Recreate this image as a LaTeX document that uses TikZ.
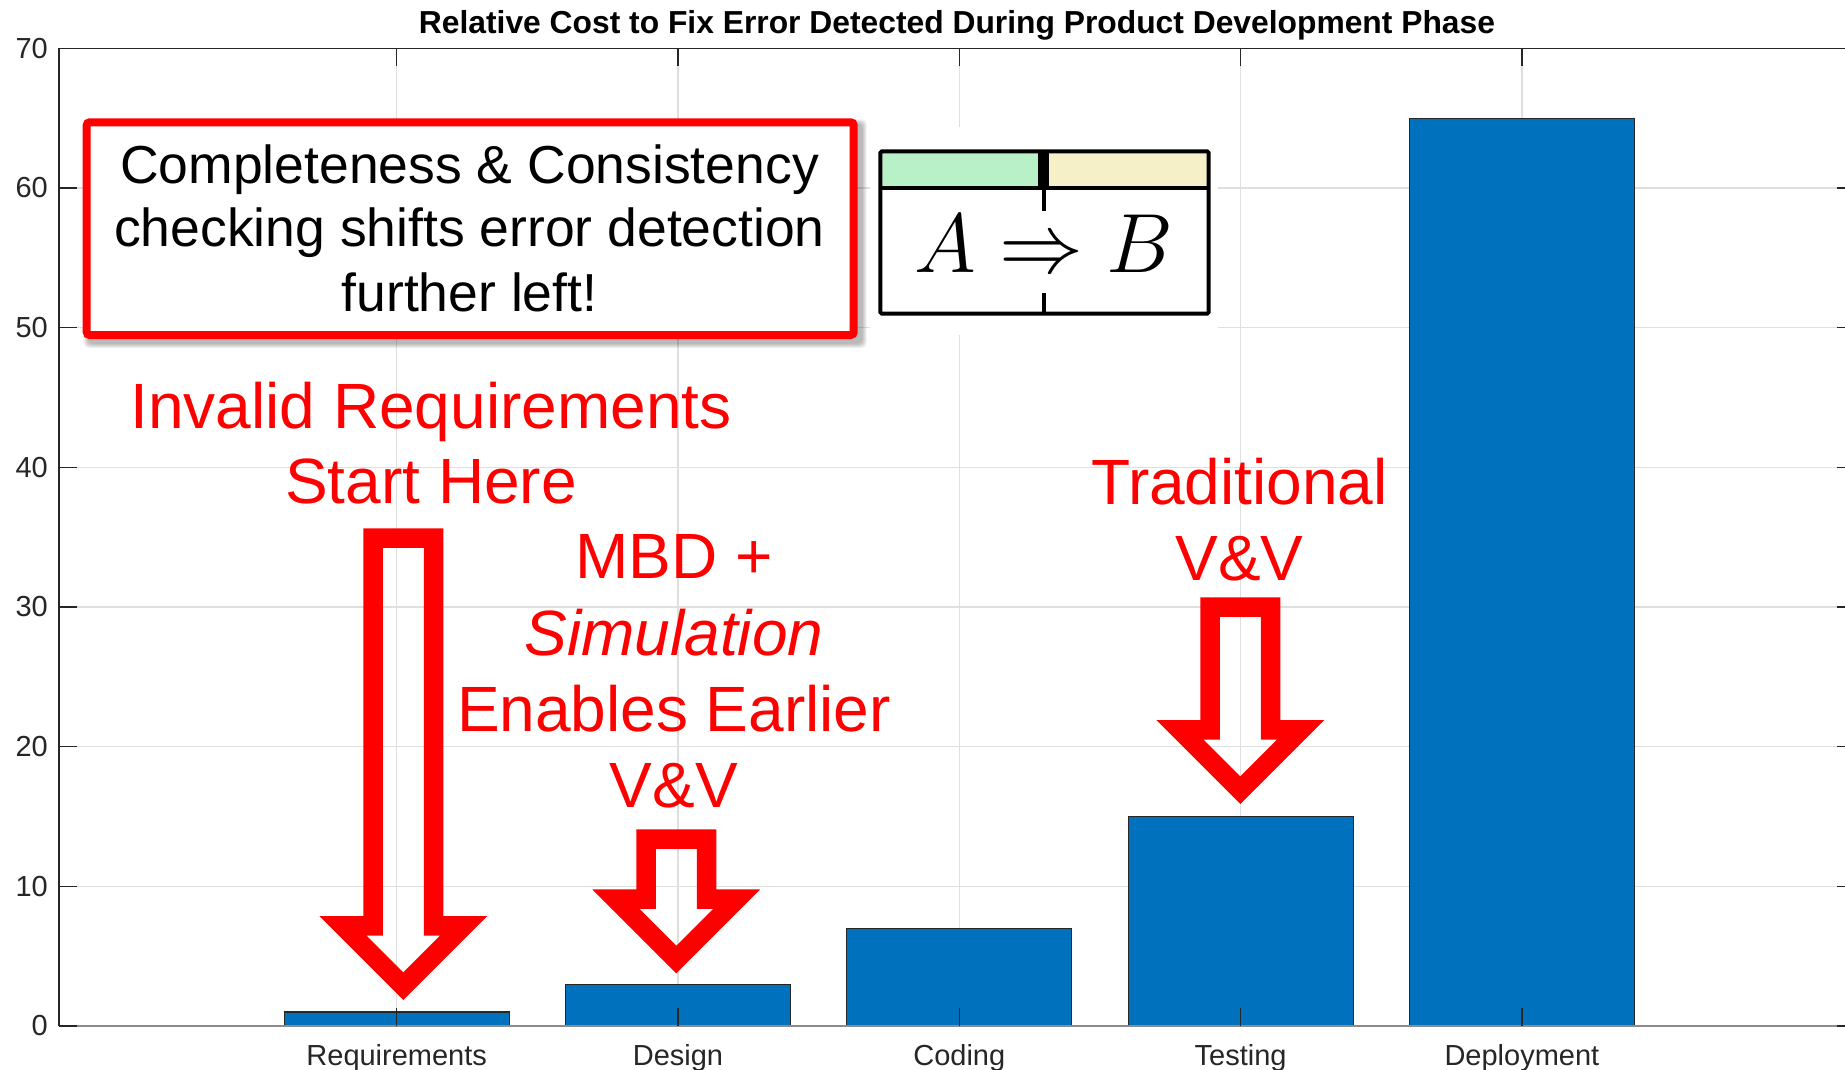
\RequirePackage{fix-cm}
\documentclass[tikz,border=0pt]{standalone}
\usepackage{fontspec}
\newfontfamily\plotfont{Liberation Sans}
\definecolor{barblue}{HTML}{0072BD}
\definecolor{gridgray}{HTML}{DFDFDF}
\definecolor{axisgray}{HTML}{262626}
\definecolor{alertred}{HTML}{FF0000}
\definecolor{pregreen}{HTML}{B8F0C8}
\definecolor{postyellow}{HTML}{F5F0C8}

% Hollow block arrow pointing down: centre x, top y, y of the wings
\newcommand{\hollowdownarrow}[3]{%
  \fill[alertred,even odd rule]
    ({#1-40},#2) -- ({#1+40},#2) -- ({#1+40},#3) -- ({#1+84},#3)
      -- (#1,{#3+84}) -- ({#1-84},#3) -- ({#1-40},#3) -- cycle
    ({#1-20.5},{#2+19.5}) -- ({#1+20.5},{#2+19.5}) -- ({#1+20.5},{#3+19.5})
      -- ({#1+36.9},{#3+19.5}) -- (#1,{#3+56.4}) -- ({#1-36.9},{#3+19.5})
      -- ({#1-20.5},{#3+19.5}) -- cycle;}

\begin{document}
\begin{tikzpicture}[x=1pt,y=-1pt,
  ticklabel/.style={font=\plotfont\fontsize{29}{33}\selectfont, text=axisgray, inner sep=0pt},
  redlabel/.style={font=\plotfont\fontsize{64}{76}\selectfont, text=alertred, inner sep=0pt, anchor=base},
  boxlabel/.style={font=\plotfont\fontsize{53.5}{63}\selectfont, text=black, inner sep=0pt, anchor=base},
  gridline/.style={draw=gridgray, line width=1.5pt},
  axisline/.style={draw=axisgray, line width=1.5pt},
  bar/.style={fill=barblue, draw=black!85, line width=1.2pt}]
\useasboundingbox (0,0) rectangle (1845,1070);
\fill[white] (0,0) rectangle (1845,1070);

% grid
\foreach \k in {1,...,6} {
  \pgfmathsetmacro{\yy}{1026-139.67*\k}
  \draw[gridline] (59,\yy) -- (1855,\yy);
}
\foreach \cx in {396.7,678,959.3,1240.6,1521.9}
  \draw[gridline] (\cx,48.3) -- (\cx,1026);

% bars
\foreach \cx/\v in {396.7/1,678/3,959.3/7,1240.6/15,1521.9/65} {
  \pgfmathsetmacro{\yy}{1026-13.967*\v}
  \filldraw[bar] ({\cx-112.5},1026) rectangle ({\cx+112.5},\yy);
}

% axes and ticks
\draw[axisline] (59,48.3) -- (1855,48.3);
\draw[axisline] (59,48.3) -- (59,1026);
\draw[draw=black!45, line width=2.5pt] (59,1026) -- (1855,1026);
\foreach \cx in {396.7,678,959.3,1240.6,1521.9} {
  \draw[axisline] (\cx,1026) -- (\cx,1008);
  \draw[axisline] (\cx,48.3) -- (\cx,66.3);
}
\foreach \k in {0,...,7} {
  \pgfmathsetmacro{\yy}{1026-139.67*\k}
  \pgfmathtruncatemacro{\lab}{10*\k}
  \draw[axisline] (59,\yy) -- (77,\yy);
  \draw[axisline] (1855,\yy) -- (1837,\yy);
  \node[ticklabel, anchor=east] (ylab\k) at (48,\yy) {\lab};
}

% category labels
\node[ticklabel, anchor=base] (xreq) at (396.7,1065) {Requirements};
\node[ticklabel, anchor=base] (xdes) at (678,1065) {Design};
\node[ticklabel, anchor=base] (xcod) at (959.3,1065) {Coding};
\node[ticklabel, anchor=base] (xtes) at (1240.6,1065) {Testing};
\node[ticklabel, anchor=base] (xdep) at (1521.9,1065) {Deployment};

% title
\node[font=\plotfont\bfseries\fontsize{31.8}{36}\selectfont, inner sep=0pt, anchor=base] (title)
  at (957,34) {Relative Cost to Fix Error Detected During Product Development Phase};

% callout box with soft shadow
\foreach \s in {0,1,2,3,4}
  \fill[black, opacity=0.06, rounded corners=5]
    ({82.7+5-\s},{118.3+5-\s}) rectangle ({857.7+5+\s},{339+5+\s});
\draw[alertred, line width=8pt, fill=white, rounded corners=3]
  (86.7,122.3) rectangle (853.7,335);
\node[boxlabel] (box1) at (469.5,183.3) {Completeness \& Consistency};
\node[boxlabel] (box2) at (469.5,246.7) {checking shifts error detection};
\node[boxlabel] (box3) at (469.5,311) {further left!};

% implication panel
\fill[white] (870,127) rectangle (1218,335);
\fill[pregreen] (880.3,151.3) rectangle (1044,187.7);
\fill[postyellow] (1044,151.3) rectangle (1208.7,187.7);
\fill[black] (1038.3,151.3) rectangle (1049,187.7);
\draw[line width=4pt] (880.3,187.7) -- (1208.7,187.7);
\draw[line width=4pt] (1043.8,187.7) -- (1043.8,210.7);
\draw[line width=4pt] (1043.8,293.3) -- (1043.8,313.7);
\draw[line width=4pt, rounded corners=1.5] (880.3,151.3) rectangle (1208.7,313.7);
\node[inner sep=0pt, anchor=base, font=\fontsize{84}{94}\selectfont] (impl)
  at (1044,272.7) {$A \Rightarrow B$};

% red annotations
\node[redlabel] (inv1) at (431,428.3) {Invalid Requirements};
\node[redlabel] (inv2) at (431,503.3) {Start Here};
\node[redlabel] (mbd1) at (674,578.3) {MBD +};
\node[redlabel] (mbd2) at (674,655) {\itshape Simulation};
\node[redlabel] (mbd3) at (674,731.7) {Enables Earlier};
\node[redlabel] (mbd4) at (674,807.7) {V\&V};
\node[redlabel] (trad1) at (1239.5,504.3) {Traditional};
\node[redlabel] (trad2) at (1239.5,580) {V\&V};

% block arrows
\hollowdownarrow{403.3}{528.3}{916}
\hollowdownarrow{676.3}{829.3}{889.3}
\hollowdownarrow{1240.3}{597.3}{720}
\end{tikzpicture}
\end{document}
